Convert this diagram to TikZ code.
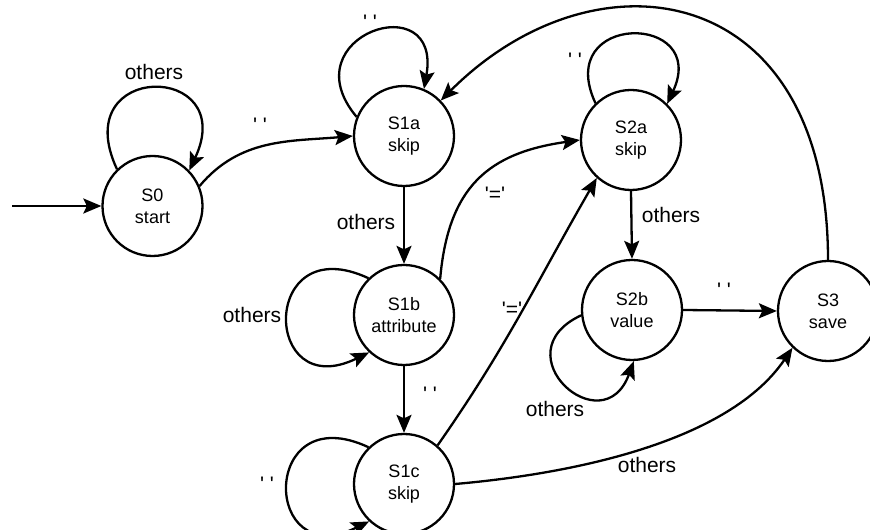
\documentclass[tikz,border=0pt]{standalone}
\usepackage{fontspec}
\setmainfont{Liberation Sans}[Ligatures=TeXOff]
\usetikzlibrary{arrows.meta}
\begin{document}
\begin{tikzpicture}[x=1pt,y=1pt,
  state/.style={draw, circle, line width=2.3pt, minimum size=100pt, inner sep=0pt,
    align=center, font=\fontsize{18}{22}\selectfont},
  lab/.style={font=\fontsize{21}{24}\selectfont, inner sep=0pt, anchor=base},
  tr/.style={line width=2.3pt, -{Stealth[length=18pt,width=15pt,inset=3.5pt]}}]
\useasboundingbox (0,0) rectangle (870,530);
\clip (0,0) rectangle (870,530);

% states
\node[state] (S0)  at (152.5,324) {S0\\start};
\node[state] (S1a) at (404,394)   {S1a\\skip};
\node[state] (S2a) at (631,390)   {S2a\\skip};
\node[state] (S1b) at (404,215)   {S1b\\attribute};
\node[state] (S2b) at (632,220)   {S2b\\value};
\node[state] (S3)  at (828,219)   {S3\\save};
\node[state] (S1c) at (404,46)    {S1c\\skip};

% initial arrow
\coordinate (init) at (12,324);
\draw[tr] (init) -- (S0.west);

% self loops
\draw[tr] (S0.134)  .. controls +(115:120) and +(65:120) .. (S0.44);
\draw[tr] (S1a.158) .. controls +(130:106) and +(80:106) .. (S1a.67);
\draw[tr] (S2a.134) .. controls +(115:101) and +(65:101) .. (S2a.45);
\draw[tr] (S1b.134) .. controls +(155:120) and +(206:120) .. (S1b.227);
\draw[tr] (S1c.134) .. controls +(155:120) and +(206:120) .. (S1c.227);
\draw[tr] (S2b.186) .. controls +(205:90) and +(250:90) .. (S2b.272);

% transitions
\draw[tr] (S0.23) to[out=50,in=185] (S1a.west);
\draw[tr] (S1a.south) -- (S1b.north);
\draw[tr] (S1b.south) -- (S1c.north);
\draw[tr] (S2a.south) -- (S2b.north);
\draw[tr] (S2b.east) -- (S3.west);
\draw[tr] (S1b.45) to[out=85,in=188,looseness=1.2] (S2a.west);
\draw[tr] (S1c.49) to[out=55,in=240] (S2a.228);
\draw[tr] (S1c.east) .. controls +(5:120) and +(236:113) .. (S3.226);
\draw[tr] (S3.north) .. controls +(90:280) and +(45:220) .. (S1a.44);

% labels
\node[lab] (l1)  at (154,450)   {others};
\node[lab] (l2)  at (260,397)   {' '};
\node[lab] (l3)  at (370,500)   {' '};
\node[lab] (l4)  at (366,300)   {others};
\node[lab] (l5)  at (575,462)   {' '};
\node[lab] (l6)  at (671,307)   {others};
\node[lab] (l7)  at (252,207)   {others};
\node[lab] (l8)  at (430,128.4) {' '};
\node[lab] (l9)  at (495,328)   {'='};
\node[lab] (l10) at (512,213)   {'='};
\node[lab] (l11) at (267,38.4)  {' '};
\node[lab] (l12) at (555,113)   {others};
\node[lab] (l13) at (724,232.4) {' '};
\node[lab] (l14) at (647,57)    {others};
\end{tikzpicture}
\end{document}
